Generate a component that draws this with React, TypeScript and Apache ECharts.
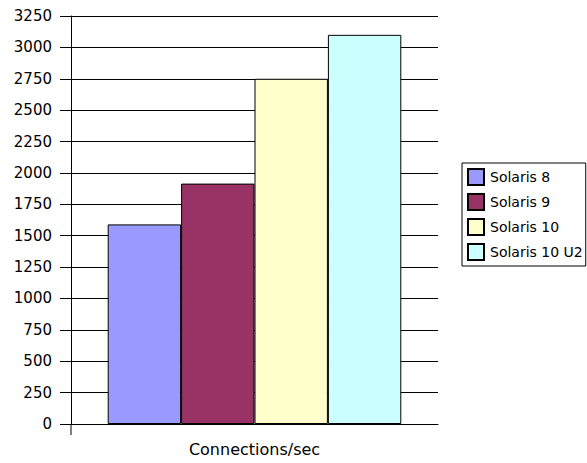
import React, { useEffect, useRef } from "react";
import * as echarts from "echarts";

const categories = ["Connections/sec"];
const seriesNames = ["Solaris 8", "Solaris 9", "Solaris 10", "Solaris 10 U2"];
const seriesValues = [1590, 1915, 2750, 3100];
const seriesColors = ["#9999ff", "#993366", "#ffffcc", "#ccffff"];
const yMin = 0;
const yMax = 3250;
const yStep = 250;

const W = 587;
const H = 463;
const GRID = { left: 71, right: 149, top: 16, bottom: 39 };
const FONT = "DejaVu Sans";

export default function App() {
  const ref = useRef<HTMLDivElement>(null);
  useEffect(() => {
    document.body.style.margin = "0";
    const chart = echarts.init(ref.current!, null, { renderer: "svg" });
    const series = seriesNames.map((name, i) => ({
      name,
      type: "bar",
      data: [seriesValues[i]],
      barGap: "0%",
      barCategoryGap: "20%",
      itemStyle: { color: seriesColors[i], borderColor: "#000", borderWidth: 1 },
      emphasis: { disabled: true },
    }));
    chart.setOption({
      animation: false,
      backgroundColor: "#fff",
      textStyle: { fontFamily: FONT },
      grid: { ...GRID, containLabel: false },
      legend: {
        orient: "vertical",
        left: 462,
        top: 163,
        padding: [5, 3, 5, 5],
        itemWidth: 16,
        itemHeight: 16,
        itemGap: 7,
        borderColor: "#000",
        borderWidth: 1,
        icon: "rect",
        selectedMode: false,
        textStyle: { fontFamily: FONT, fontSize: 14, color: "#000", padding: [0, 0, 0, 1] },
        data: seriesNames,
      },
      xAxis: {
        type: "category",
        data: categories,
        axisLine: { lineStyle: { color: "#000", width: 1 } },
        axisTick: { show: false },
        axisLabel: { fontFamily: FONT, fontSize: 16, color: "#000", margin: 17 },
      },
      yAxis: {
        type: "value",
        min: yMin,
        max: yMax,
        interval: yStep,
        axisLine: { show: true, lineStyle: { color: "#000", width: 1 } },
        axisTick: { show: true, length: 11, lineStyle: { color: "#000" } },
        axisLabel: {
          fontFamily: FONT,
          fontSize: 15,
          color: "#000",
          margin: 19,
          formatter: (v: number) => String(v),
        },
        splitLine: { show: true, lineStyle: { color: "#000", width: 1 } },
      },
      graphic: [
        {
          type: "line",
          shape: {
            x1: GRID.left,
            y1: H - GRID.bottom,
            x2: GRID.left,
            y2: H - GRID.bottom + 11,
          },
          style: { stroke: "#000", lineWidth: 1 },
        },
      ],
      series,
    });
    return () => chart.dispose();
  }, []);
  return (
    <div
      ref={ref}
      style={{ position: "fixed", left: 0, top: 0, width: W, height: H, background: "#fff" }}
    />
  );
}
